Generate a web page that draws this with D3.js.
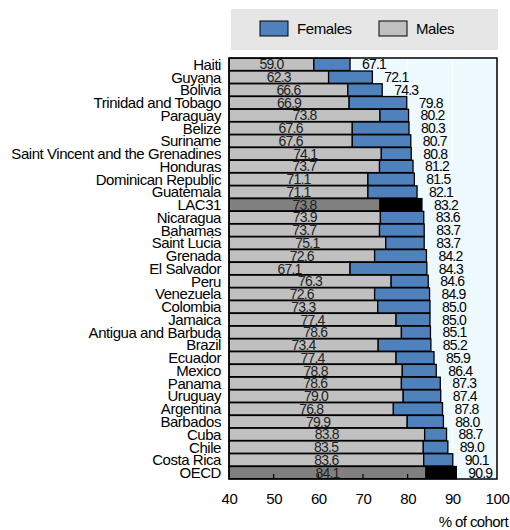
<!DOCTYPE html>
<html>
<head>
<meta charset="utf-8">
<script src="https://cdn.jsdelivr.net/npm/d3@7"></script>
<style>
  html, body { margin: 0; padding: 0; background: #ffffff; }
  svg { display: block; }
  text { font-family: "Liberation Sans", Arial, sans-serif; fill: #000; }
</style>
</head>
<body>
<svg id="chart" width="510" height="530"></svg>
<script>
// Completion rates by country, % of cohort
const countries = ["Haiti", "Guyana", "Bolivia", "Trinidad and Tobago", "Paraguay", "Belize", "Suriname",
  "Saint Vincent and the Grenadines", "Honduras", "Dominican Republic", "Guatemala", "LAC31", "Nicaragua",
  "Bahamas", "Saint Lucia", "Grenada", "El Salvador", "Peru", "Venezuela", "Colombia", "Jamaica",
  "Antigua and Barbuda", "Brazil", "Ecuador", "Mexico", "Panama", "Uruguay", "Argentina", "Barbados",
  "Cuba", "Chile", "Costa Rica", "OECD"];
const males = [59.0, 62.3, 66.6, 66.9, 73.8, 67.6, 67.6, 74.1, 73.7, 71.1, 71.1, 73.8, 73.9, 73.7, 75.1,
  72.6, 67.1, 76.3, 72.6, 73.3, 77.4, 78.6, 73.4, 77.4, 78.8, 78.6, 79.0, 76.8, 79.9, 83.8, 83.5, 83.6, 84.1];
const females = [67.1, 72.1, 74.3, 79.8, 80.2, 80.3, 80.7, 80.8, 81.2, 81.5, 82.1, 83.2, 83.6, 83.7, 83.7,
  84.2, 84.3, 84.6, 84.9, 85.0, 85.0, 85.1, 85.2, 85.9, 86.4, 87.3, 87.4, 87.8, 88.0, 88.7, 89.0, 90.1, 90.9];
const aggregates = ["LAC31", "OECD"];
const xTicks = [40, 50, 60, 70, 80, 90, 100];
const seriesNames = ["Females", "Males"];

const rows = countries.map((c, i) => ({ country: c, m: males[i], f: females[i], agg: aggregates.includes(c) }));

const svg = d3.select("#chart");
const plot = { left: 229, right: 497, top: 58, bottom: 479 };

const x = d3.scaleLinear().domain([40, 100]).range([plot.left, plot.right]);
const y = d3.scaleBand().domain(countries).range([plot.top, plot.bottom]).paddingInner(0.04).paddingOuter(0.02);

// Plot background and light gridlines
svg.append("rect")
  .attr("x", plot.left).attr("y", plot.top)
  .attr("width", plot.right - plot.left).attr("height", plot.bottom - plot.top)
  .attr("fill", "#eefaff");
svg.append("g").selectAll("line").data(xTicks.slice(1, -1)).join("line")
  .attr("x1", d => x(d)).attr("x2", d => x(d))
  .attr("y1", plot.top).attr("y2", plot.bottom)
  .attr("stroke", "#ffffff").attr("stroke-width", 1);

const colors = {
  m: d => d.agg ? "#808080" : "#c0c0c0",
  f: d => d.agg ? "#000000" : "#4f81bd"
};

// Male bars from the axis origin, female bars extend from the male value
const bars = svg.append("g");
bars.selectAll("rect.m").data(rows).join("rect")
  .attr("class", "m")
  .attr("x", x(40)).attr("y", d => y(d.country))
  .attr("width", d => x(d.m) - x(40)).attr("height", y.bandwidth())
  .attr("fill", colors.m).attr("stroke", "#000").attr("stroke-width", 1.3);
bars.selectAll("rect.f").data(rows).join("rect")
  .attr("class", "f")
  .attr("x", d => x(d.m)).attr("y", d => y(d.country))
  .attr("width", d => x(d.f) - x(d.m)).attr("height", y.bandwidth())
  .attr("fill", colors.f).attr("stroke", "#000").attr("stroke-width", 1.3);

// Small tick marks inside the bottom edge
svg.append("g").selectAll("line").data(xTicks.slice(1, -1)).join("line")
  .attr("x1", d => x(d)).attr("x2", d => x(d))
  .attr("y1", plot.bottom).attr("y2", plot.bottom - 5)
  .attr("stroke", "#000").attr("stroke-width", 1.2);

// Frame
svg.append("rect")
  .attr("x", plot.left).attr("y", plot.top)
  .attr("width", plot.right - plot.left).attr("height", plot.bottom - plot.top)
  .attr("fill", "none").attr("stroke", "#000").attr("stroke-width", 1.5);

// Value labels
const labels = svg.append("g").attr("font-size", 14).attr("letter-spacing", -0.8);
labels.selectAll("text.m").data(rows).join("text")
  .attr("class", "m")
  .attr("x", d => x((40 + d.m) / 2)).attr("y", d => y(d.country) + y.bandwidth() / 2 + 5)
  .attr("text-anchor", "middle")
  .style("fill", "#222")
  .text(d => d.m.toFixed(1));
labels.selectAll("text.f").data(rows).join("text")
  .attr("class", "f")
  .attr("x", d => x(d.f) + 24).attr("y", d => y(d.country) + y.bandwidth() / 2 + 5)
  .attr("text-anchor", "middle")
  .text(d => d.f.toFixed(1));

// Category axis
const yAxis = svg.append("g").attr("transform", `translate(${plot.left},0)`)
  .call(d3.axisLeft(y).tickSize(0).tickPadding(8));
yAxis.select(".domain").remove();
yAxis.selectAll("text").attr("font-size", 15).attr("dy", "0.36em").attr("letter-spacing", -0.45)
  .style("font-family", '"Liberation Sans", Arial, sans-serif');

// Value axis
const xAxis = svg.append("g").attr("transform", `translate(0,${plot.bottom})`)
  .call(d3.axisBottom(x).tickValues(xTicks).tickSize(0).tickPadding(14).tickFormat(d3.format("d")));
xAxis.select(".domain").remove();
xAxis.selectAll("text").attr("font-size", 15).attr("letter-spacing", -0.4)
  .style("font-family", '"Liberation Sans", Arial, sans-serif');

svg.append("text")
  .attr("x", 508).attr("y", 527)
  .attr("text-anchor", "end").attr("font-size", 15).attr("letter-spacing", -0.6)
  .text("% of cohort");

// Legend
const legend = svg.append("g");
legend.append("rect").attr("x", 231).attr("y", 9).attr("width", 267).attr("height", 41).attr("fill", "#e6e6e6");
const legendColors = ["#4f81bd", "#c0c0c0"];
const legendX = [260, 379];
seriesNames.forEach((name, i) => {
  legend.append("rect").attr("x", legendX[i]).attr("y", 21).attr("width", 28).attr("height", 15)
    .attr("fill", legendColors[i]).attr("stroke", "#000").attr("stroke-width", 1);
  legend.append("text").attr("x", legendX[i] + 37).attr("y", 34).attr("font-size", 15)
    .attr("letter-spacing", -0.4).text(name);
});
</script>
</body>
</html>
